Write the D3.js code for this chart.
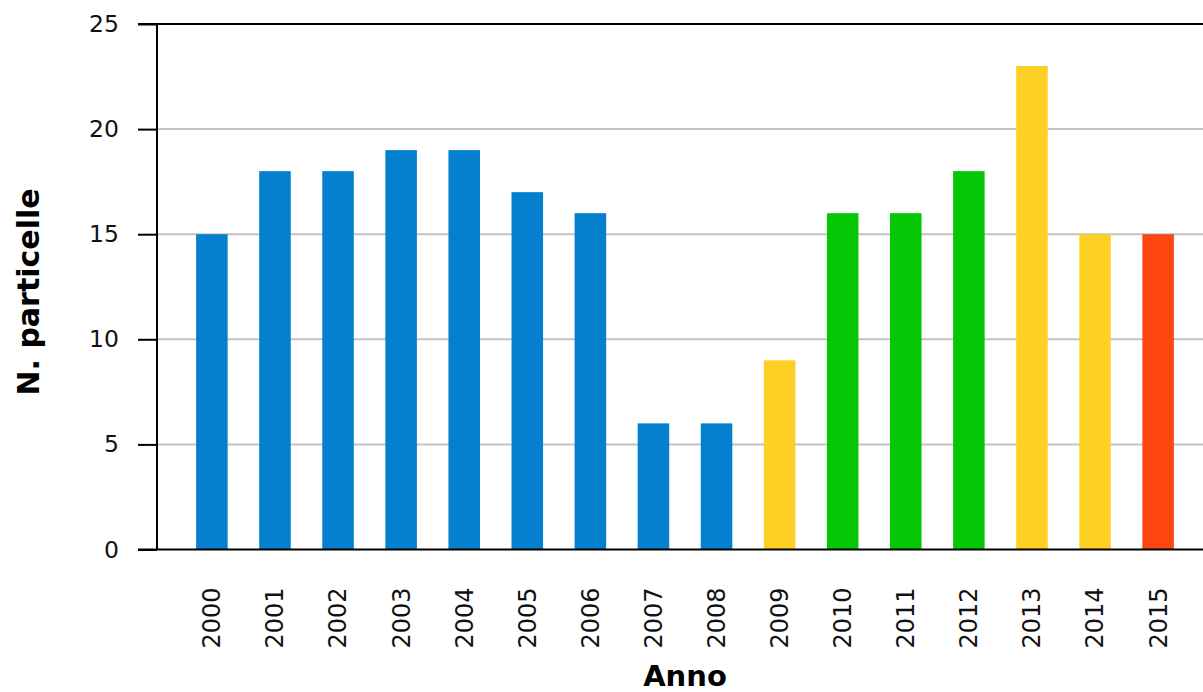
<!DOCTYPE html>
<html>
<head>
<meta charset="utf-8">
<script src="https://cdn.jsdelivr.net/npm/d3@7"></script>
<style>
  html, body { margin: 0; padding: 0; background: #fff; }
  svg { display: block; }
  text { font-family: "DejaVu Sans", Verdana, sans-serif; }
</style>
</head>
<body>
<svg id="chart" width="1203" height="692"></svg>
<script>
// Number of parcels per year
const years = ["2000","2001","2002","2003","2004","2005","2006","2007","2008","2009","2010","2011","2012","2013","2014","2015"];
const values = [15, 18, 18, 19, 19, 17, 16, 6, 6, 9, 16, 16, 18, 23, 15, 15];
const classes = ["b","b","b","b","b","b","b","b","b","y","g","g","g","y","y","r"];
const yTicks = [0, 5, 10, 15, 20, 25];

const palette = { b: "#0480cf", y: "#fdd124", g: "#05c705", r: "#fd4611" };

const svg = d3.select("#chart");
const plotLeft = 157, plotRight = 1213, plotTop = 24, plotBottom = 549.5;

const x = d3.scaleBand()
  .domain(years)
  .range([plotLeft, plotRight])
  .paddingInner(0.5)
  .paddingOuter(0.62);

const y = d3.scaleLinear().domain([0, 25]).range([plotBottom, plotTop]);

// horizontal grid lines
svg.append("g")
  .selectAll("line")
  .data(yTicks.filter(t => t > 0 && t < 25))
  .join("line")
  .attr("x1", plotLeft).attr("x2", 1203)
  .attr("y1", d => y(d)).attr("y2", d => y(d))
  .attr("stroke", "#c3c3c3")
  .attr("stroke-width", 2);

// top border
svg.append("line")
  .attr("x1", 138).attr("x2", 1203)
  .attr("y1", y(25)).attr("y2", y(25))
  .attr("stroke", "#000").attr("stroke-width", 2);

// bars
svg.append("g")
  .selectAll("rect")
  .data(years)
  .join("rect")
  .attr("x", d => x(d))
  .attr("width", x.bandwidth())
  .attr("y", (d, i) => y(values[i]))
  .attr("height", (d, i) => y(0) - y(values[i]))
  .attr("fill", (d, i) => palette[classes[i]]);

// y axis
const yAxis = svg.append("g")
  .attr("transform", `translate(${plotLeft},0)`)
  .call(d3.axisLeft(y).tickValues(yTicks).tickSize(19).tickPadding(19));
yAxis.select(".domain").attr("stroke", "#000").attr("stroke-width", 2)
  .attr("d", `M0,${plotTop}V${plotBottom}`);
yAxis.selectAll(".tick line").attr("stroke", "#000").attr("stroke-width", 2);
yAxis.selectAll(".tick text")
  .attr("font-size", 23.5)
  .attr("font-family", "DejaVu Sans, Verdana, sans-serif")
  .attr("fill", "#111");

// x axis
const xAxis = svg.append("g")
  .attr("transform", `translate(0,${plotBottom})`)
  .call(d3.axisBottom(x).tickSize(0).tickPadding(0));
xAxis.select(".domain").attr("stroke", "#000").attr("stroke-width", 2)
  .attr("d", `M138,0H1203`);
xAxis.selectAll(".tick text")
  .attr("font-size", 24)
  .attr("font-family", "DejaVu Sans, Verdana, sans-serif")
  .attr("fill", "#111")
  .attr("text-anchor", "end")
  .attr("y", 0)
  .attr("dy", "0.35em")
  .attr("transform", "translate(0,38) rotate(-90)");

// axis titles
svg.append("text")
  .attr("x", 685).attr("y", 686)
  .attr("text-anchor", "middle")
  .attr("font-weight", "bold")
  .attr("font-size", 29)
  .text("Anno");

svg.append("text")
  .attr("transform", "translate(39,292) rotate(-90)")
  .attr("text-anchor", "middle")
  .attr("font-weight", "bold")
  .attr("font-size", 30)
  .text("N. particelle");
</script>
</body>
</html>
